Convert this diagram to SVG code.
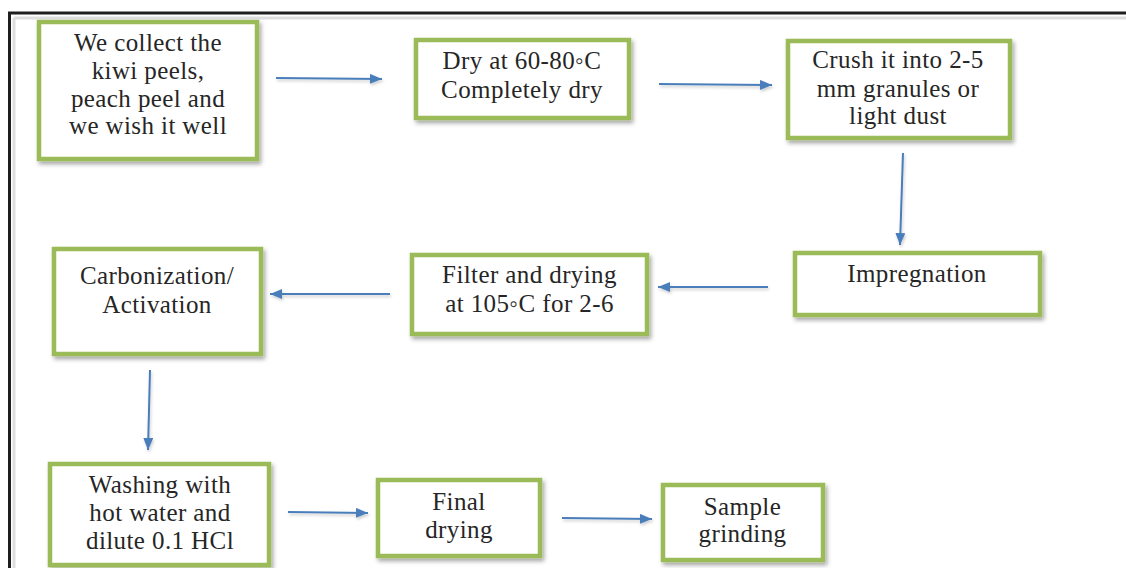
<svg xmlns="http://www.w3.org/2000/svg" width="1126" height="568" viewBox="0 0 1126 568">
<style>
.box{fill:#fff;stroke:#9bbb59;stroke-width:4.5;filter:url(#sh)}
.t{font-family:'Liberation Serif',Tinos,'DejaVu Serif',serif;font-size:25px;letter-spacing:0.4px;fill:#262626;text-anchor:middle}
.c{stroke:#4a7ebb;stroke-width:2;fill:none;marker-end:url(#ah)}
</style>
<defs>
<filter id="sh" x="-10%" y="-10%" width="130%" height="130%">
<feDropShadow dx="2" dy="3" stdDeviation="2" flood-color="#000" flood-opacity="0.35"/>
</filter>
<filter id="ls" x="-10%" y="-50%" width="130%" height="200%">
<feDropShadow dx="1" dy="2" stdDeviation="1.5" flood-color="#000" flood-opacity="0.2"/>
</filter>
<marker id="ah" markerUnits="userSpaceOnUse" markerWidth="13" markerHeight="11" refX="12" refY="5" orient="auto">
<path d="M0,0 L12,5 L0,10 z" fill="#4a7ebb"/>
</marker>
</defs>
<rect width="1126" height="568" fill="#fff"/>
<g id="frame">
<line x1="14" y1="18" x2="1126" y2="18" stroke="#ddd" stroke-width="3"/>
<line x1="14" y1="18" x2="14" y2="568" stroke="#ddd" stroke-width="3"/>
<line x1="8" y1="13" x2="1126" y2="13" stroke="#1e1e1e" stroke-width="3"/>
<line x1="9.5" y1="12" x2="9.5" y2="568" stroke="#1e1e1e" stroke-width="3"/>
</g>
<g id="connectors" filter="url(#ls)">
<line class="c" x1="276" y1="78" x2="382" y2="79"/>
<line class="c" x1="659" y1="84" x2="772" y2="85"/>
<line class="c" x1="903" y1="153" x2="900" y2="245"/>
<line class="c" x1="768" y1="287" x2="658" y2="287"/>
<line class="c" x1="390" y1="294" x2="270" y2="294"/>
<line class="c" x1="150" y1="370" x2="148" y2="450"/>
<line class="c" x1="288" y1="512" x2="368" y2="513"/>
<line class="c" x1="562" y1="518" x2="652" y2="519"/>
</g>
<g id="n1"><rect class="box" x="39" y="22" width="218" height="137"/>
<text class="t" x="148" y="51">We collect the</text>
<text class="t" x="148" y="79">kiwi peels,</text>
<text class="t" x="148" y="107">peach peel and</text>
<text class="t" x="148" y="134">we wish it well</text></g>
<g id="n2"><rect class="box" x="416" y="40" width="213" height="78"/>
<text class="t" x="522" y="69">Dry at 60-80◦C</text>
<text class="t" x="522" y="98">Completely dry</text></g>
<g id="n3"><rect class="box" x="788" y="41" width="222" height="97"/>
<text class="t" x="898" y="68">Crush it into 2-5</text>
<text class="t" x="898" y="97">mm granules or</text>
<text class="t" x="898" y="124">light dust</text></g>
<g id="n4"><rect class="box" x="795" y="253" width="245" height="62"/>
<text class="t" x="917" y="282">Impregnation</text></g>
<g id="n5"><rect class="box" x="412" y="255" width="235" height="79"/>
<text class="t" x="529.5" y="283">Filter and drying</text>
<text class="t" x="529.5" y="312">at 105◦C for 2-6</text></g>
<g id="n6"><rect class="box" x="54" y="249" width="207" height="105"/>
<text class="t" x="157" y="284">Carbonization/</text>
<text class="t" x="157" y="313">Activation</text></g>
<g id="n7"><rect class="box" x="50" y="464" width="219" height="101"/>
<text class="t" x="160" y="493">Washing with</text>
<text class="t" x="160" y="521">hot water and</text>
<text class="t" x="160" y="549">dilute 0.1 HCl</text></g>
<g id="n8"><rect class="box" x="378" y="480" width="162" height="76"/>
<text class="t" x="459" y="510">Final</text>
<text class="t" x="459" y="538">drying</text></g>
<g id="n9"><rect class="box" x="663" y="485" width="160" height="75"/>
<text class="t" x="742.5" y="515">Sample</text>
<text class="t" x="742.5" y="542">grinding</text></g>
</svg>
